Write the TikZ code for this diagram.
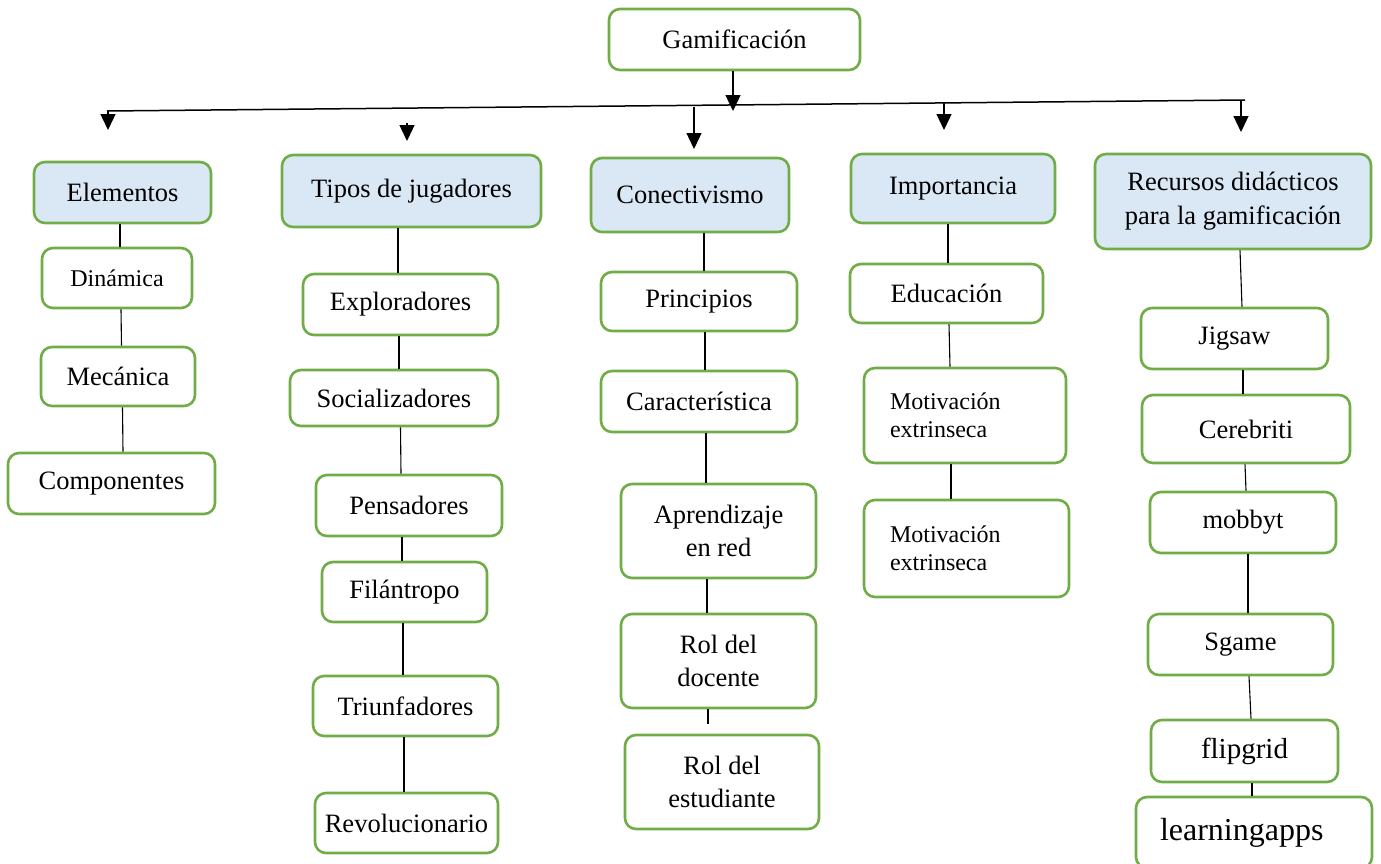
\documentclass[tikz,border=0pt]{standalone}
\usepackage{fontspec}
\setmainfont{Liberation Serif}
\usetikzlibrary{arrows.meta}
\definecolor{boxgreen}{HTML}{70AD47}
\definecolor{headblue}{HTML}{DAE7F5}
\begin{document}
\begin{tikzpicture}[x=1pt,y=-1pt,
  box/.style={draw=boxgreen, line width=2.6pt, rounded corners=11pt, fill=white,
    inner sep=0pt, align=center, font=\fontsize{26.5}{32.5}\selectfont},
  headbox/.style={box, fill=headblue},
  smalltext/.style={font=\fontsize{24}{27.5}\selectfont},
  link/.style={draw=black, line width=1.1pt},
  arr/.style={draw=black, line width=1.3pt, -{Triangle[width=15pt,length=16pt]}},
]
\useasboundingbox (0,0) rectangle (1381,863);

% root
\node[box, minimum width=251pt, minimum height=61pt] (gam) at (734.5,39.5) {Gamificación};

% main branches
\node[headbox, minimum width=177pt, minimum height=61pt] (ele) at (122.5,192.5) {Elementos};
\node[headbox, minimum width=259pt, minimum height=72pt] (tip) at (411.5,191) {Tipos de jugadores};
\node[headbox, minimum width=198pt, minimum height=74pt] (con) at (690,195) {Conectivismo};
\node[headbox, minimum width=204pt, minimum height=69pt] (imp) at (953,188.5) {Importancia};
\node[headbox, minimum width=276pt, minimum height=95pt, font=\fontsize{26.5}{34}\selectfont] (rec) at (1233,201.5) {Recursos didácticos\\para la gamificación};

% Elementos
\node[box, smalltext, minimum width=150pt, minimum height=60pt] (din) at (117,278) {Dinámica};
\node[box, minimum width=154pt, minimum height=59pt] (mec) at (118,376.5) {Mecánica};
\node[box, minimum width=207pt, minimum height=61pt] (com) at (111.5,483.5) {Componentes};

% Tipos de jugadores
\node[box, minimum width=195pt, minimum height=61pt] (exp) at (400.5,304.5) {Exploradores};
\node[box, minimum width=208pt, minimum height=56pt] (soc) at (394,398) {Socializadores};
\node[box, minimum width=186pt, minimum height=61pt] (pen) at (409,505.5) {Pensadores};
\node[box, minimum width=165pt, minimum height=60pt] (fil) at (404.5,592) {Filántropo};
\node[box, minimum width=185pt, minimum height=60pt] (tri) at (405.5,706) {Triunfadores};
\node[box, minimum width=183pt, minimum height=60pt] (rev) at (406.5,823) {Revolucionario};

% Conectivismo
\node[box, minimum width=196pt, minimum height=59pt] (pri) at (699,301.5) {Principios};
\node[box, minimum width=196pt, minimum height=61pt] (car) at (699,401.5) {Característica};
\node[box, minimum width=195pt, minimum height=94pt] (apr) at (718.5,531) {Aprendizaje\\en red};
\node[box, minimum width=195pt, minimum height=94pt] (doc) at (718.5,661) {Rol del\\docente};
\node[box, minimum width=194pt, minimum height=94pt] (est) at (722,782) {Rol del\\estudiante};

% Importancia
\node[box, minimum width=193pt, minimum height=59pt] (edu) at (946.5,293.5) {Educación};
\node[box, smalltext, align=left, text width=150pt, inner xsep=26pt, minimum height=95pt] (moa) at (965,415.5) {Motivación\\extrinseca};
\node[box, smalltext, align=left, text width=153pt, inner xsep=26pt, minimum height=97pt] (mob) at (966.5,548.5) {Motivación\\extrinseca};

% Recursos didácticos
\node[box, minimum width=187pt, minimum height=61pt] (jig) at (1234.5,338.5) {Jigsaw};
\node[box, minimum width=208pt, minimum height=68pt] (cer) at (1246,429) {Cerebriti};
\node[box, minimum width=186pt, minimum height=61pt] (mby) at (1243,522.5) {mobbyt};
\node[box, minimum width=185pt, minimum height=61pt] (sga) at (1240.5,644.5) {Sgame};
\node[box, minimum width=187pt, minimum height=62pt, font=\fontsize{29}{34}\selectfont] (fli) at (1244.5,751) {flipgrid};
\node[box, align=left, text width=188pt, inner xsep=24pt, minimum height=71pt, font=\fontsize{32}{38}\selectfont] (lea) at (1254,832.5) {learningapps};

% distribution bar with arrows
\coordinate (hl) at (107,111);
\coordinate (hr) at (1245,100);
\coordinate (gtip) at (733,111);
\coordinate (a1) at (108,111);   \coordinate (t1) at (108,130);
\coordinate (a2) at (407,123);   \coordinate (t2) at (407,141);
\coordinate (a3) at (694,107);   \coordinate (t3) at (694,149);
\coordinate (a4) at (944,103);   \coordinate (t4) at (944,130);
\coordinate (a5) at (1241,100);  \coordinate (t5) at (1241,132);

\draw[link, line width=1.5pt] (hl) -- (hr);
\draw[arr] ([xshift=-1.5pt]gam.south) -- (gtip);
\draw[arr] (a1) -- (t1);
\draw[arr] (a2) -- (t2);
\draw[arr] (a3) -- (t3);
\draw[arr] (a4) -- (t4);
\draw[arr] (a5) -- (t5);

% vertical links
\draw[link] ([xshift=-2.5pt]ele.south) -- ([xshift=3pt]din.north);
\draw[link] ([xshift=4pt]din.south) -- ([xshift=3.5pt]mec.north);
\draw[link] ([xshift=4.5pt]mec.south) -- ([xshift=11.5pt]com.north);

\draw[link] ([xshift=-13.5pt]tip.south) -- ([xshift=-2.5pt]exp.north);
\draw[link] ([xshift=-1.5pt]exp.south) -- ([xshift=5pt]soc.north);
\draw[link] ([xshift=6.5pt]soc.south) -- ([xshift=-8pt]pen.north);
\draw[link] ([xshift=-7pt]pen.south) -- ([xshift=-2.5pt]fil.north);
\draw[link] ([xshift=-1.5pt]fil.south) -- ([xshift=-2.5pt]tri.north);
\draw[link] ([xshift=-1.5pt]tri.south) -- ([xshift=-2.5pt]rev.north);

\draw[link] ([xshift=14pt]con.south) -- ([xshift=5pt]pri.north);
\draw[link] ([xshift=6pt]pri.south) -- ([xshift=6pt]car.north);
\draw[link] ([xshift=7pt]car.south) -- ([xshift=-12.5pt]apr.north);
\draw[link] ([xshift=-11.5pt]apr.south) -- ([xshift=-11.5pt]doc.north);
\draw[link, shorten >=10pt] ([xshift=-10.5pt]doc.south) -- ([xshift=-14pt]est.north);

\draw[link] ([xshift=-5pt]imp.south) -- ([xshift=1.5pt]edu.north);
\draw[link] ([xshift=2.5pt]edu.south) -- ([xshift=-15pt]moa.north);
\draw[link] ([xshift=-14pt]moa.south) -- ([xshift=-15.5pt]mob.north);

\draw[link] ([xshift=7pt]rec.south) -- ([xshift=7.5pt]jig.north);
\draw[link] ([xshift=8.5pt]jig.south) -- ([xshift=-3pt]cer.north);
\draw[link] ([xshift=-1pt]cer.south) -- ([xshift=3pt]mby.north);
\draw[link] ([xshift=5pt]mby.south) -- ([xshift=7.5pt]sga.north);
\draw[link] ([xshift=8.5pt]sga.south) -- ([xshift=6.5pt]fli.north);
\draw[link] ([xshift=7.5pt]fli.south) -- ([xshift=-2pt]lea.north);
\end{tikzpicture}
\end{document}
